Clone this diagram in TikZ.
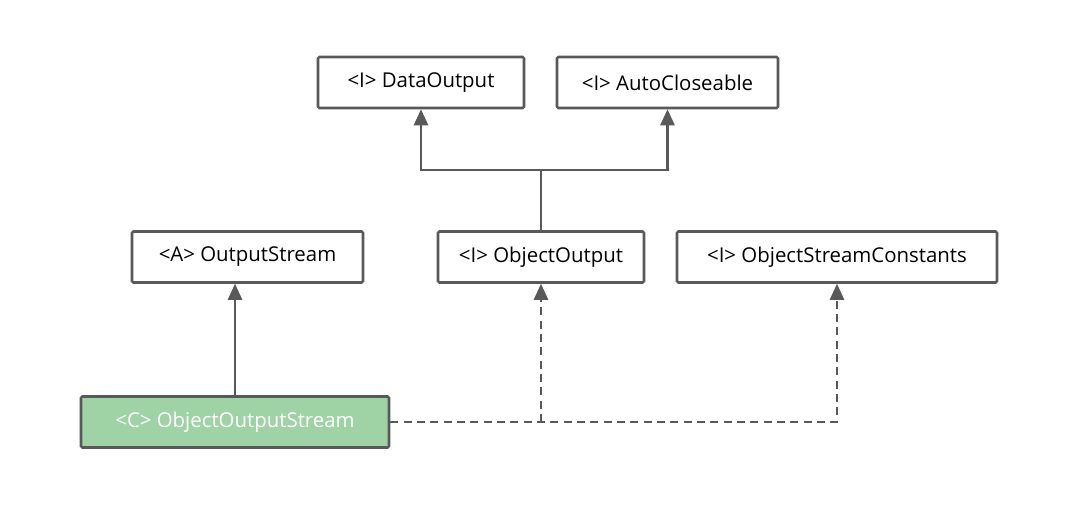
\documentclass[tikz,border=0pt]{standalone}
\usepackage{fontspec}
\setmainfont{Open Sans}
\usepackage{tikz}
\usetikzlibrary{arrows.meta}
\usetikzlibrary{positioning}
\definecolor{linegray}{HTML}{595959}
\definecolor{classgreen}{HTML}{9FD3A6}
\tikzset{
  box/.style={draw=linegray, line width=1.9pt, rounded corners=1pt, fill=white,
    minimum height=38.25pt, inner sep=0pt, font=\fontsize{15.3}{17}\selectfont},
  inherit/.style={draw=linegray, line width=1.9pt, -{Triangle[length=12pt,width=10.5pt]}},
  realize/.style={inherit, dash pattern=on 6pt off 4pt}
}
\begin{document}
\begin{tikzpicture}[x=0.75pt,y=-0.75pt]
  \useasboundingbox (0,0) rectangle (1083,509);
  \node[box, minimum width=154.5pt] (dataout) at (421,82.5) {<I> DataOutput};
  \node[box, minimum width=165.75pt] (autoclose) at (667.5,82.5) {<I> AutoCloseable};
  \node[box, minimum width=173.25pt] (outstream) at (247.5,257) {<A> OutputStream};
  \node[box, minimum width=154.5pt] (objout) at (541,257) {<I> ObjectOutput};
  \node[box, minimum width=240pt] (constants) at (837,257) {<I> ObjectStreamConstants};
  \node[box, fill=classgreen, text=white, minimum width=231pt] (oos) at (235,422) {<C> ObjectOutputStream};

  \coordinate (join) at (541,170);
  \draw[inherit] (objout.north) -- (join) -| (dataout.south);
  \draw[inherit] (join) -| (autoclose.south);
  \draw[inherit] (oos.north) -- (oos.north |- outstream.south);
  \draw[realize] (oos.east) -| (constants.south);
  \draw[realize] (oos.east -| objout.south) -- (objout.south);
\end{tikzpicture}
\end{document}
